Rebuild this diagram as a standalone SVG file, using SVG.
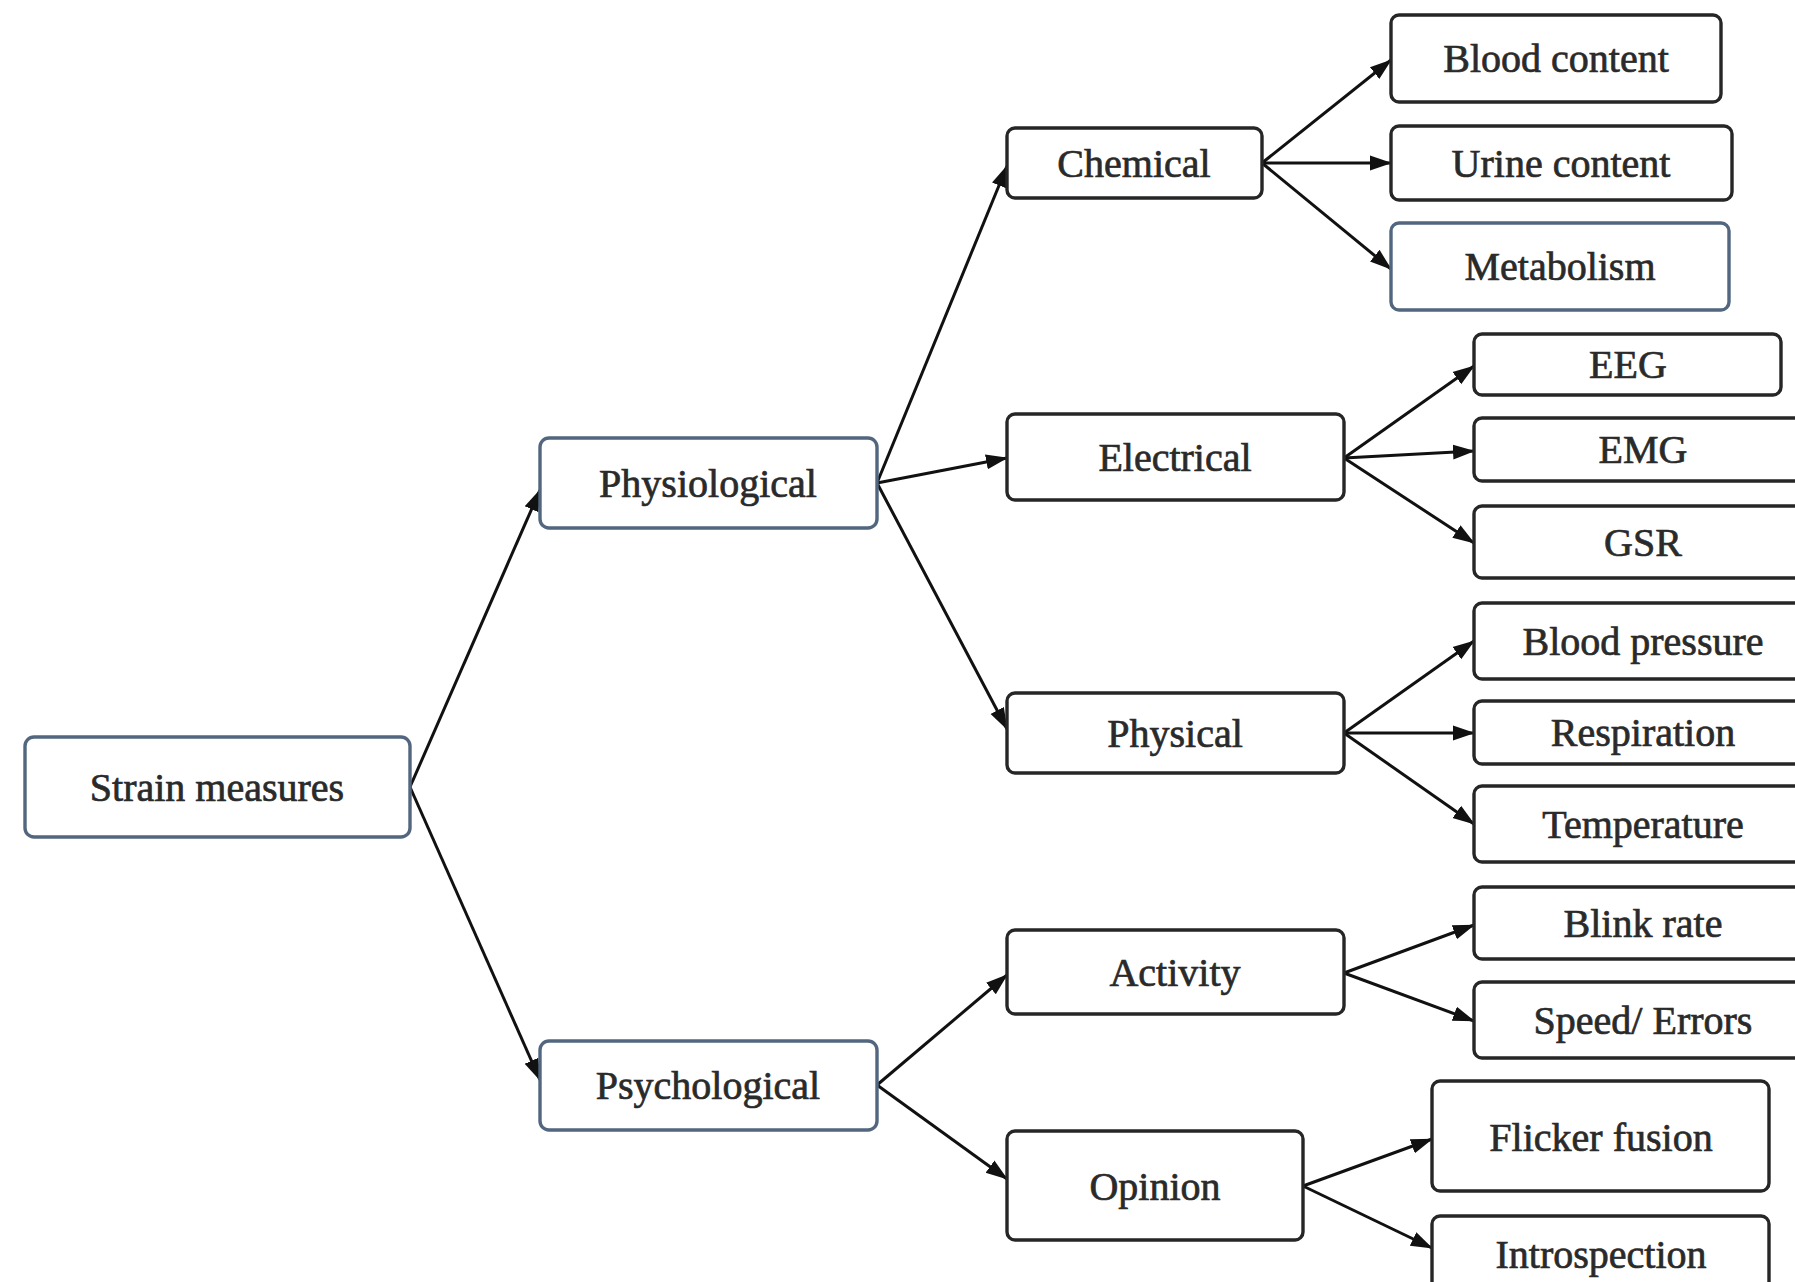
<svg xmlns="http://www.w3.org/2000/svg" width="1795" height="1282" viewBox="0 0 1795 1282">
  <style>
    .box { fill: #ffffff; stroke: #262626; stroke-width: 3.4; }
    .box.blue { stroke: #52677f; }
    .lbl { font-family: "Liberation Serif", "Times New Roman", serif; font-size: 40px; fill: #2a2a2a; stroke: #2a2a2a; stroke-width: 0.7; text-anchor: middle; dominant-baseline: central; }
    .edge { stroke: #111111; stroke-width: 3; fill: none; marker-end: url(#arrow); }
  </style>
  <defs>
    <marker id="arrow" markerUnits="userSpaceOnUse" markerWidth="22" markerHeight="18" refX="21" refY="9" orient="auto">
      <path d="M0,1.5 L22,9 L0,16.5 Z" fill="#111111"/>
    </marker>
  </defs>
  <rect width="1795" height="1282" fill="#ffffff"/>

  <!-- connectors -->
  <g id="connectors">
    <line class="edge" x1="410" y1="787" x2="540" y2="490"/>
    <line class="edge" x1="410" y1="787" x2="540" y2="1080"/>
    <line class="edge" x1="877" y1="483" x2="1007" y2="166"/>
    <line class="edge" x1="877" y1="483" x2="1007" y2="458"/>
    <line class="edge" x1="877" y1="483" x2="1007" y2="729"/>
    <line class="edge" x1="1262" y1="163" x2="1391" y2="60"/>
    <line class="edge" x1="1262" y1="163" x2="1391" y2="163"/>
    <line class="edge" x1="1262" y1="163" x2="1391" y2="269"/>
    <line class="edge" x1="1344" y1="458" x2="1474" y2="366"/>
    <line class="edge" x1="1344" y1="458" x2="1474" y2="451"/>
    <line class="edge" x1="1344" y1="458" x2="1474" y2="543"/>
    <line class="edge" x1="1344" y1="733" x2="1474" y2="641"/>
    <line class="edge" x1="1344" y1="733" x2="1474" y2="733"/>
    <line class="edge" x1="1344" y1="733" x2="1474" y2="824"/>
    <line class="edge" x1="877" y1="1085" x2="1007" y2="975"/>
    <line class="edge" x1="877" y1="1085" x2="1007" y2="1179"/>
    <line class="edge" x1="1344" y1="973" x2="1474" y2="925"/>
    <line class="edge" x1="1344" y1="973" x2="1474" y2="1021"/>
    <line class="edge" x1="1303" y1="1186" x2="1432" y2="1139"/>
    <line class="edge" x1="1303" y1="1186" x2="1432" y2="1248"/>
  </g>

  <!-- root -->
  <g id="strain-measures">
    <rect class="box blue" x="25" y="737" width="385" height="100" rx="9"/>
    <text class="lbl" x="217" y="787">Strain measures</text>
  </g>

  <!-- second level -->
  <g id="physiological">
    <rect class="box blue" x="540" y="438" width="337" height="90" rx="9"/>
    <text class="lbl" x="708" y="483">Physiological</text>
  </g>
  <g id="psychological">
    <rect class="box blue" x="540" y="1041" width="337" height="89" rx="9"/>
    <text class="lbl" x="708" y="1085">Psychological</text>
  </g>

  <!-- third level -->
  <g id="chemical">
    <rect class="box" x="1007" y="128" width="255" height="70" rx="8"/>
    <text class="lbl" x="1134" y="163">Chemical</text>
  </g>
  <g id="electrical">
    <rect class="box" x="1007" y="414" width="337" height="86" rx="8"/>
    <text class="lbl" x="1175" y="457">Electrical</text>
  </g>
  <g id="physical">
    <rect class="box" x="1007" y="693" width="337" height="80" rx="8"/>
    <text class="lbl" x="1175" y="733">Physical</text>
  </g>
  <g id="activity">
    <rect class="box" x="1007" y="930" width="337" height="84" rx="8"/>
    <text class="lbl" x="1175" y="972">Activity</text>
  </g>
  <g id="opinion">
    <rect class="box" x="1007" y="1131" width="296" height="109" rx="8"/>
    <text class="lbl" x="1155" y="1186">Opinion</text>
  </g>

  <!-- leaves -->
  <g id="blood-content">
    <rect class="box" x="1391" y="15" width="330" height="87" rx="8"/>
    <text class="lbl" x="1556" y="58">Blood content</text>
  </g>
  <g id="urine-content">
    <rect class="box" x="1391" y="126" width="341" height="74" rx="8"/>
    <text class="lbl" x="1561" y="163">Urine content</text>
  </g>
  <g id="metabolism">
    <rect class="box blue" x="1391" y="223" width="338" height="87" rx="8"/>
    <text class="lbl" x="1560" y="266">Metabolism</text>
  </g>
  <g id="eeg">
    <rect class="box" x="1474" y="334" width="307" height="61" rx="8"/>
    <text class="lbl" x="1628" y="364">EEG</text>
  </g>
  <g id="emg">
    <rect class="box" x="1474" y="418" width="338" height="63" rx="8"/>
    <text class="lbl" x="1643" y="449">EMG</text>
  </g>
  <g id="gsr">
    <rect class="box" x="1474" y="506" width="338" height="72" rx="8"/>
    <text class="lbl" x="1643" y="542">GSR</text>
  </g>
  <g id="blood-pressure">
    <rect class="box" x="1474" y="603" width="338" height="76" rx="8"/>
    <text class="lbl" x="1643" y="641">Blood pressure</text>
  </g>
  <g id="respiration">
    <rect class="box" x="1474" y="701" width="338" height="63" rx="8"/>
    <text class="lbl" x="1643" y="732">Respiration</text>
  </g>
  <g id="temperature">
    <rect class="box" x="1474" y="786" width="338" height="76" rx="8"/>
    <text class="lbl" x="1643" y="824">Temperature</text>
  </g>
  <g id="blink-rate">
    <rect class="box" x="1474" y="887" width="338" height="72" rx="8"/>
    <text class="lbl" x="1643" y="923">Blink rate</text>
  </g>
  <g id="speed-errors">
    <rect class="box" x="1474" y="982" width="338" height="76" rx="8"/>
    <text class="lbl" x="1643" y="1020">Speed/ Errors</text>
  </g>
  <g id="flicker-fusion">
    <rect class="box" x="1432" y="1081" width="337" height="110" rx="8"/>
    <text class="lbl" x="1601" y="1137">Flicker fusion</text>
  </g>
  <g id="introspection">
    <rect class="box" x="1432" y="1216" width="337" height="82" rx="8"/>
    <text class="lbl" x="1601" y="1254">Introspection</text>
  </g>
</svg>
